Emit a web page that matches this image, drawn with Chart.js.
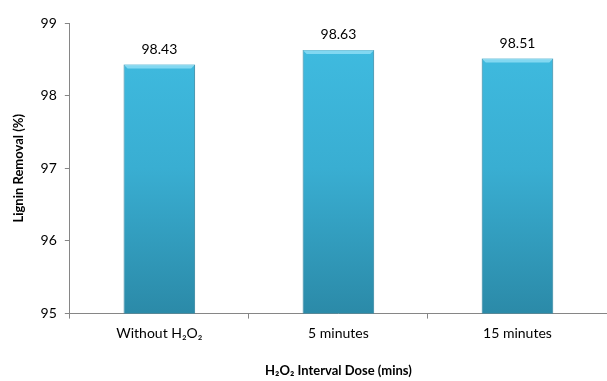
<!DOCTYPE html>
<html>
<head>
<meta charset="utf-8">
<script src="https://cdn.jsdelivr.net/npm/chart.js@4"></script>
<style>
  html, body { margin: 0; padding: 0; background: #fff; }
  #wrap { width: 607px; height: 381px; }
</style>
</head>
<body>
<div id="wrap"><canvas id="chart"></canvas></div>
<script>
// data
const categories = ['Without H\u2082O\u2082', '5 minutes', '15 minutes'];
const ligninRemoval = [98.43, 98.63, 98.51];
const yTicks = [95, 96, 97, 98, 99];

// value labels above each bar
const valueLabels = {
    id: 'valueLabels',
    afterDatasetsDraw(chart) {
        const ctx = chart.ctx;
        const meta = chart.getDatasetMeta(0);
        ctx.save();
        ctx.font = '14px Lato';
        ctx.fillStyle = '#000';
        ctx.textAlign = 'center';
        ctx.textBaseline = 'bottom';
        meta.data.forEach((bar, i) => {
            ctx.fillText(ligninRemoval[i].toFixed(2), bar.x, bar.y - 8);
        });
        ctx.restore();
    }
};

// a little bevel on the top of bars
const bevel = {
    id: 'bevel',
    afterDatasetsDraw(chart) {
        const ctx = chart.ctx;
        const meta = chart.getDatasetMeta(0);
        ctx.save();
        meta.data.forEach(bar => {
            const l = bar.x - bar.width / 2, r = bar.x + bar.width / 2, t = bar.y;
            ctx.fillStyle = 'rgba(160,230,250,0.7)';
            ctx.beginPath();
            ctx.moveTo(l, t); ctx.lineTo(r, t); ctx.lineTo(r - 4, t + 4); ctx.lineTo(l + 4, t + 4);
            ctx.closePath(); ctx.fill();
        });
        ctx.restore();
    }
};

function barFill(context) {
    const area = context.chart.chartArea;
    if (!area) return '#3ab6dc';
    const g = context.chart.ctx.createLinearGradient(0, area.top, 0, area.bottom);
    g.addColorStop(0, '#40bde2');
    g.addColorStop(0.5, '#39aed2');
    g.addColorStop(1, '#2b8aa8');
    return g;
}

new Chart(document.getElementById('chart'), {
    type: 'bar',
    data: {
        labels: categories,
        datasets: [{
            data: ligninRemoval,
            backgroundColor: barFill,
            borderColor: '#2a7f9b',
            borderWidth: 1,
            categoryPercentage: 1,
            barPercentage: 0.4
        }]
    },
    options: {
        animation: false,
        responsive: true,
        maintainAspectRatio: false,
        layout: { padding: { top: 23, right: 0, left: 7, bottom: 0 } },
        plugins: { legend: { display: false }, tooltip: { enabled: false } },
        scales: {
            x: {
                grid: { drawOnChartArea: false, offset: true, tickLength: 5, color: '#868686' },
                border: { color: '#868686' },
                ticks: { color: '#000', font: { family: 'Lato', size: 14 }, padding: 6 },
                title: {
                    display: true,
                    text: 'H\u2082O\u2082 Interval Dose (mins)',
                    color: '#000',
                    font: { family: 'Lato', size: 13, weight: 'bold' },
                    padding: { top: 16, bottom: 2 }
                }
            },
            y: {
                min: 95,
                max: 99,
                afterBuildTicks(axis) { axis.ticks = yTicks.map(v => ({ value: v })); },
                grid: { drawOnChartArea: false, tickLength: 5, color: '#868686' },
                border: { color: '#868686' },
                ticks: { color: '#000', font: { family: 'Lato', size: 14 }, padding: 8 },
                title: {
                    display: true,
                    text: 'Lignin Removal (%)',
                    color: '#000',
                    font: { family: 'Lato', size: 13, weight: 'bold' },
                    padding: { bottom: 6 }
                }
            }
        }
    },
    plugins: [valueLabels, bevel]
});
</script>
</body>
</html>
